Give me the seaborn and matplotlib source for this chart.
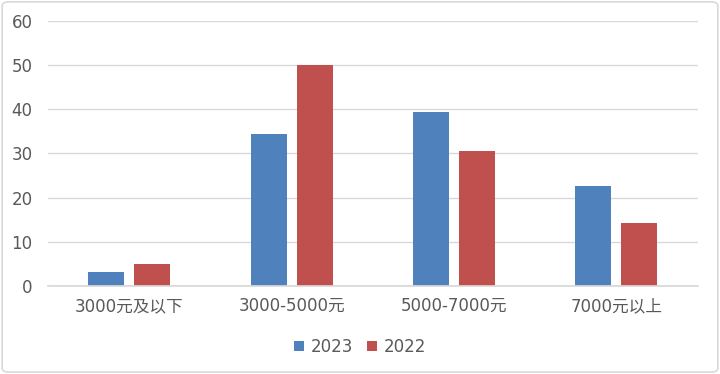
import pandas as pd
import seaborn as sns
import matplotlib.pyplot as plt
from matplotlib.patches import FancyBboxPatch

sns.set_theme(style='white')
plt.rcParams['font.family'] = ['DejaVu Sans', 'Noto Sans CJK SC']

# 数据
categories = ['3000元及以下', '3000-5000元', '5000-7000元', '7000元以上']
years = ['2023', '2022']
values_2023 = [3.2, 34.4, 39.4, 22.7]
values_2022 = [5.0, 50.0, 30.6, 14.3]

df = pd.DataFrame({
    'cat': categories * 2,
    'year': [years[0]] * 4 + [years[1]] * 4,
    'val': values_2023 + values_2022,
})

fig = plt.figure(figsize=(7.2, 3.74), dpi=100)
ax = fig.add_axes([0.0667, 0.2353, 0.9023, 0.7086])

palette = {'2023': '#4F81BD', '2022': '#C0504D'}
sns.barplot(data=df, x='cat', y='val', hue='year', palette=palette,
            width=0.566, gap=0.217, saturation=1, linewidth=0, ax=ax, legend=True)

ax.set_ylim(0, 60)
ax.set_yticks(range(0, 61, 10))
ax.set_xlabel('')
ax.set_ylabel('')
ax.grid(axis='y', color='#D9D9D9', linewidth=1)
ax.set_axisbelow(True)
for s in ['top', 'right', 'left']:
    ax.spines[s].set_visible(False)
ax.spines['bottom'].set_color('#D9D9D9')
ax.tick_params(axis='both', length=0, labelsize=12, colors='#595959')
ax.tick_params(axis='y', pad=11)
ax.tick_params(axis='x', pad=8)

# 图例放到底部
handles, labels = ax.get_legend_handles_labels()
ax.get_legend().remove()
fig.legend(handles, labels, loc='center', bbox_to_anchor=(0.5, 0.072), ncol=2,
           frameon=False, fontsize=12, handlelength=0.6, handleheight=0.6,
           handletextpad=0.4, columnspacing=0.8, labelcolor='#595959')

# 外框
border = FancyBboxPatch((0.003, 0.005), 0.994, 0.99, boxstyle='round,pad=0,rounding_size=0.01',
                        transform=fig.transFigure, fill=False, edgecolor='#D9D9D9', linewidth=1.2)
fig.patches.append(border)

fig.savefig('out.png', dpi=100)
